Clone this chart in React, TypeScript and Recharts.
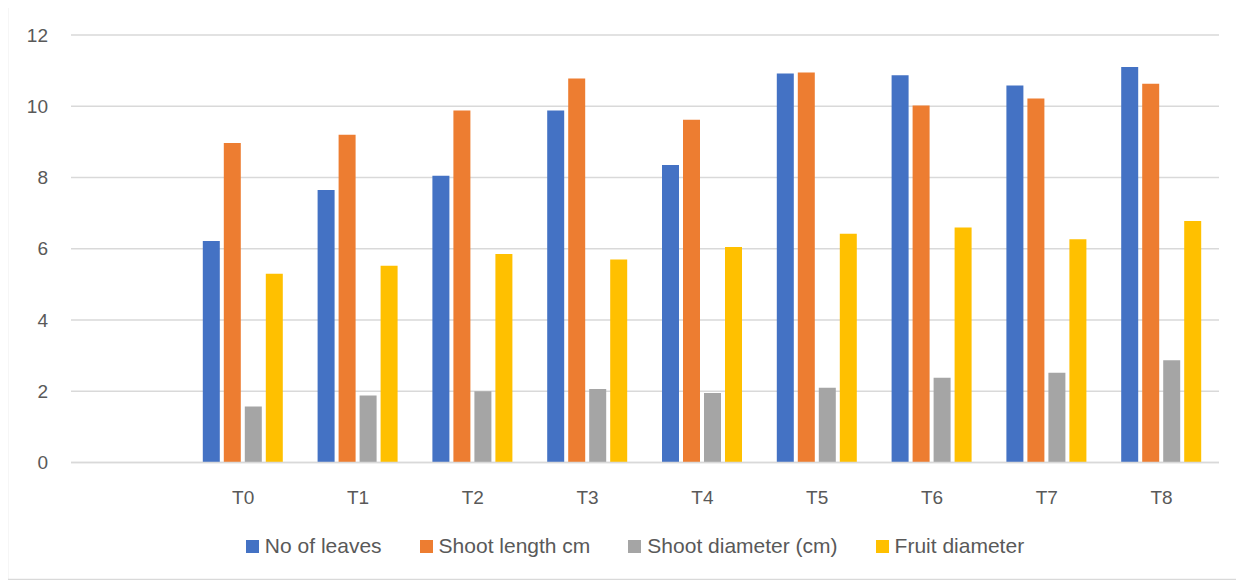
import React from "react";
import { BarChart, Bar, XAxis, YAxis, CartesianGrid, Legend, Customized } from "recharts";

const categories = ["", "T0", "T1", "T2", "T3", "T4", "T5", "T6", "T7", "T8"];
const noOfLeaves = [null, 6.22, 7.65, 8.05, 9.88, 8.35, 10.92, 10.87, 10.58, 11.1];
const shootLength = [null, 8.97, 9.2, 9.88, 10.78, 9.62, 10.95, 10.02, 10.22, 10.63];
const shootDiameter = [null, 1.57, 1.88, 2.0, 2.06, 1.95, 2.1, 2.38, 2.52, 2.87];
const fruitDiameter = [null, 5.3, 5.52, 5.85, 5.7, 6.05, 6.42, 6.6, 6.27, 6.78];
const yTicks = [0, 2, 4, 6, 8, 10, 12];

const seriesNames = ["No of leaves", "Shoot length cm", "Shoot diameter (cm)", "Fruit diameter"];
const colors = ["#4472C4", "#ED7D31", "#A5A5A5", "#FFC000"];

const data = categories.map((c, i) => ({
  name: c,
  s0: noOfLeaves[i],
  s1: shootLength[i],
  s2: shootDiameter[i],
  s3: fruitDiameter[i],
}));

const FONT = "'Liberation Sans', Arial, sans-serif";
const W = 1234;
const H = 574;

const LegendContent = () => {
  return (
    <div
      style={{
        height: 60,
        boxSizing: "border-box",
        paddingTop: 7,
        paddingLeft: 30,
        display: "flex",
        justifyContent: "center",
        alignItems: "center",
        fontFamily: FONT,
        fontSize: 21,
        color: "#595959",
      }}
    >
      {seriesNames.map((name, i) => (
        <div
          key={name}
          style={{ display: "flex", alignItems: "center", marginLeft: i === 0 ? 0 : 38 }}
        >
          <span style={{ width: 13, height: 13, background: colors[i], marginRight: 6, display: "inline-block" }} />
          <span style={{ whiteSpace: "nowrap", lineHeight: "24px" }}>{name}</span>
        </div>
      ))}
    </div>
  );
};

const Frame = () => (
  <rect x={0.5} y={0.5} width={W - 1} height={H - 1} fill="none" stroke="#d9d9d9" strokeWidth={1.5} />
);

export default function App() {
  return (
    <div style={{ marginLeft: -1, marginTop: -2, width: W, height: H }}>
      <BarChart
        width={W}
        height={H}
        data={data}
        margin={{ top: 29, right: 22, left: 14, bottom: 7.5 }}
        barSize={17}
        barGap={4}
      >
        <Customized component={Frame} />
        <CartesianGrid vertical={false} stroke="#d9d9d9" strokeWidth={1.5} />
        <XAxis
          dataKey="name"
          height={50}
          tickLine={false}
          axisLine={{ stroke: "#d9d9d9", strokeWidth: 1.5 }}
          tickMargin={22}
          tick={{ fill: "#595959", fontSize: 19, fontFamily: FONT }}
          interval={0}
        />
        <YAxis
          width={50}
          domain={[0, 12]}
          ticks={yTicks}
          tickLine={false}
          axisLine={false}
          tickMargin={17}
          tick={{ fill: "#595959", fontSize: 19, fontFamily: FONT }}
        />
        <Legend verticalAlign="bottom" content={<LegendContent />} />
        {["s0", "s1", "s2", "s3"].map((k, i) => (
          <Bar key={k} dataKey={k} name={seriesNames[i]} fill={colors[i]} isAnimationActive={false} />
        ))}
      </BarChart>
    </div>
  );
}
